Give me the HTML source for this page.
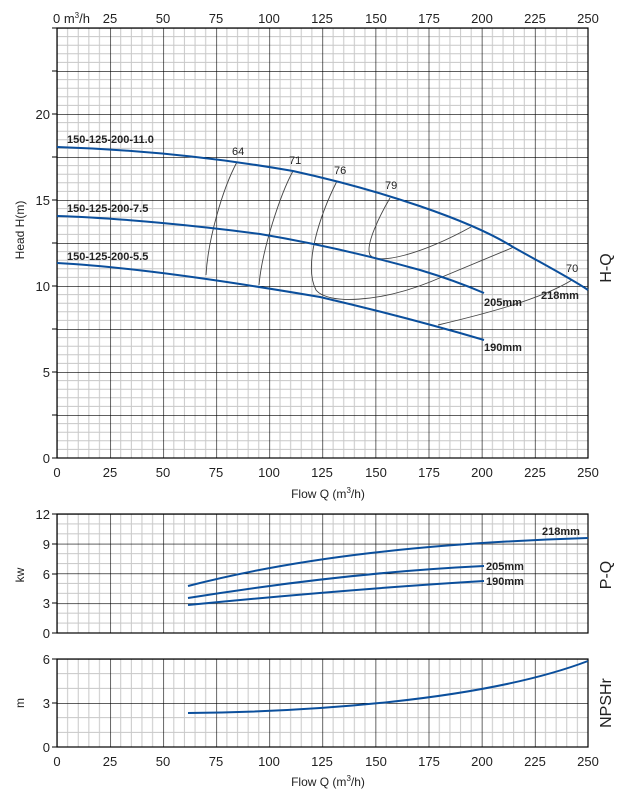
<!DOCTYPE html>
<html><head><style>
body{margin:0;background:#fff}
svg{display:block}
text{font-family:"Liberation Sans",sans-serif;fill:#222}
</style></head><body>
<svg width="622" height="797" viewBox="0 0 622 797" xmlns="http://www.w3.org/2000/svg">
<defs>
<pattern id="g1" x="57" y="28" width="53.1" height="43" patternUnits="userSpaceOnUse">
<path d="M10.62 0V43M21.24 0V43M31.86 0V43M42.48 0V43M0 8.6H53.1M0 17.2H53.1M0 25.8H53.1M0 34.4H53.1" stroke="#c8c8c8" stroke-width="1" fill="none"/>
<path d="M0 0V43M0 0H53.1" stroke="#000" stroke-width="1.2" fill="none"/>
</pattern>
<pattern id="g2" x="57" y="514" width="53.1" height="29.75" patternUnits="userSpaceOnUse">
<path d="M10.62 0V30M21.24 0V30M31.86 0V30M42.48 0V30M0 9.92H53.1M0 19.83H53.1" stroke="#c8c8c8" stroke-width="1" fill="none"/>
<path d="M0 0V30M0 0H53.1" stroke="#000" stroke-width="1.2" fill="none"/>
</pattern>
<pattern id="g3" x="57" y="659" width="53.1" height="44" patternUnits="userSpaceOnUse">
<path d="M10.62 0V44M21.24 0V44M31.86 0V44M42.48 0V44M0 14.67H53.1M0 29.33H53.1" stroke="#c8c8c8" stroke-width="1" fill="none"/>
<path d="M0 0V44M0 0H53.1" stroke="#000" stroke-width="1.2" fill="none"/>
</pattern>
</defs>
<rect x="57" y="28" width="531" height="430" fill="url(#g1)"/>
<rect x="57" y="28" width="531" height="430" fill="none" stroke="#000" stroke-width="1.2"/>
<rect x="57" y="514" width="531" height="119" fill="url(#g2)"/>
<rect x="57" y="514" width="531" height="119" fill="none" stroke="#000" stroke-width="1.2"/>
<rect x="57" y="659" width="531" height="88" fill="url(#g3)"/>
<rect x="57" y="659" width="531" height="88" fill="none" stroke="#000" stroke-width="1.2"/>
<path d="M52 28H57M52 71H57M52 114H57M52 157H57M52 200H57M52 243H57M52 286H57M52 329H57M52 372H57M52 415H57M52 458H57M52 514H57M52 544H57M52 574H57M52 603H57M52 633H57M52 659H57M52 703H57M52 747H57" stroke="#000"/>
<g font-size="13" text-anchor="end">
<text x="50" y="119">20</text><text x="50" y="205">15</text><text x="50" y="291">10</text><text x="50" y="377">5</text><text x="50" y="463">0</text>
<text x="50" y="519">12</text><text x="50" y="549">9</text><text x="50" y="579">6</text><text x="50" y="608">3</text><text x="50" y="638">0</text>
<text x="50" y="664">6</text><text x="50" y="708">3</text><text x="50" y="752">0</text>
</g>
<g font-size="13" text-anchor="middle">
<text x="57" y="477">0</text><text x="110" y="477">25</text><text x="163" y="477">50</text><text x="216" y="477">75</text><text x="269" y="477">100</text><text x="322" y="477">125</text><text x="376" y="477">150</text><text x="429" y="477">175</text><text x="482" y="477">200</text><text x="535" y="477">225</text><text x="588" y="477">250</text>
<text x="57" y="766">0</text><text x="110" y="766">25</text><text x="163" y="766">50</text><text x="216" y="766">75</text><text x="269" y="766">100</text><text x="322" y="766">125</text><text x="376" y="766">150</text><text x="429" y="766">175</text><text x="482" y="766">200</text><text x="535" y="766">225</text><text x="588" y="766">250</text>
<text x="110" y="23">25</text><text x="163" y="23">50</text><text x="216" y="23">75</text><text x="269" y="23">100</text><text x="322" y="23">125</text><text x="376" y="23">150</text><text x="429" y="23">175</text><text x="482" y="23">200</text><text x="535" y="23">225</text><text x="588" y="23">250</text>
<text x="328" y="498" font-size="12">Flow Q (m<tspan font-size="8" dy="-5">3</tspan><tspan dy="5">/h)</tspan></text>
<text x="328" y="786" font-size="12">Flow Q (m<tspan font-size="8" dy="-5">3</tspan><tspan dy="5">/h)</tspan></text>
</g>
<text x="53" y="23" font-size="13">0 m<tspan font-size="8" dy="-5">3</tspan><tspan dy="5">/h</tspan></text>
<text transform="translate(24,230) rotate(-90)" font-size="12" text-anchor="middle">Head H(m)</text>
<text transform="translate(24,575) rotate(-90)" font-size="12" text-anchor="middle">kw</text>
<text transform="translate(24,703) rotate(-90)" font-size="12" text-anchor="middle">m</text>
<text transform="translate(611,268) rotate(-90)" font-size="16" text-anchor="middle">H-Q</text>
<text transform="translate(611,575) rotate(-90)" font-size="16" text-anchor="middle">P-Q</text>
<text transform="translate(611,703) rotate(-90)" font-size="16" text-anchor="middle">NPSHr</text>
<g stroke="#444" stroke-width="0.9" fill="none">
<path d="M237,162 C222,190 208,240 206,275"/>
<path d="M293,171 C280,195 262,250 259,285"/>
<path d="M337,181 C320,215 303,265 316,290 C328,305 380,302 430,282 L514,247"/>
<path d="M390,198 C380,215 365,245 370,255 C378,265 420,255 471,227"/>
<path d="M438,325 C480,315 540,300 572,280"/>
</g>
<g font-size="11" fill="#333">
<text x="232" y="155">64</text><text x="289" y="164">71</text><text x="334" y="174">76</text><text x="385" y="189">79</text><text x="566" y="272">70</text>
</g>
<g stroke="#0b4f9c" stroke-width="2" fill="none">
<path d="M57,147 C150,150 230,160 293,171 C380,190 470,220 513,247 C545,265 570,278 588,290"/>
<path d="M57,216 C120,218 200,226 260,234 C320,244 377,258 420,270 C450,279 470,287 484,293"/>
<path d="M57,263 C130,267 220,280 320,297 C380,311 440,327 484,340"/>
<path d="M188,586 C300,557 430,543 588,538"/>
<path d="M188,598 C300,580 400,570 484,566"/>
<path d="M188,605 C300,594 400,586 484,581"/>
<path d="M188,713 C300,712 480,702 588,661"/>
</g>
<g font-size="11" font-weight="bold" fill="#111">
<text x="67" y="143">150-125-200-11.0</text>
<text x="67" y="212">150-125-200-7.5</text>
<text x="67" y="260">150-125-200-5.5</text>
<text x="484" y="306">205mm</text>
<text x="541" y="299">218mm</text>
<text x="484" y="351">190mm</text>
<text x="542" y="535">218mm</text>
<text x="486" y="570">205mm</text>
<text x="486" y="585">190mm</text>
</g>
</svg>
</body></html>
